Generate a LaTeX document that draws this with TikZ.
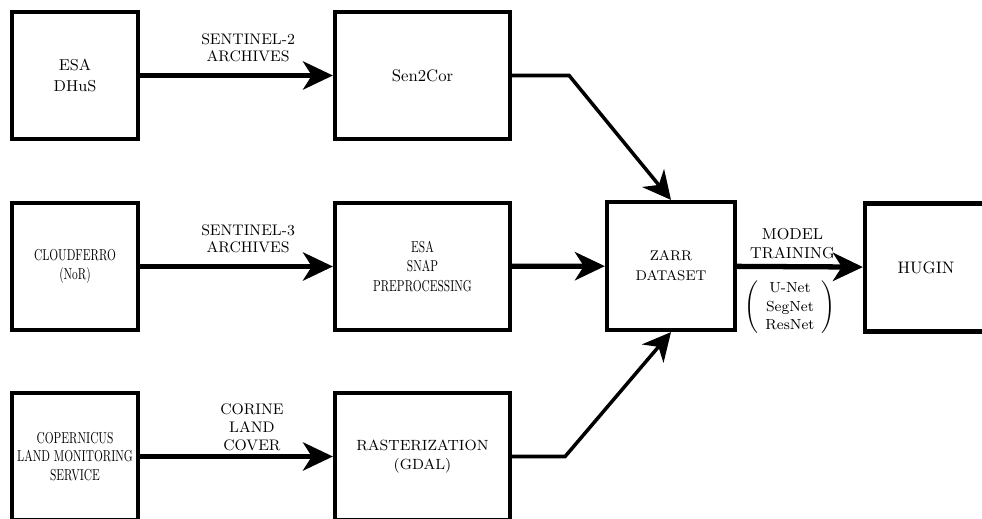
\documentclass[tikz,border=0pt]{standalone}
\usepackage{fontspec}
\newfontfamily\narrowrm[FakeStretch=0.72]{lmroman10-regular.otf}
\usetikzlibrary{arrows.meta}

\begin{document}
\begin{tikzpicture}[
    block/.style={draw=black, line width=2.4pt, minimum width=2.52cm, minimum height=2.54cm, inner sep=0pt, align=center, font=\fontsize{9}{12}\selectfont},
    wideblock/.style={block, minimum width=3.5cm},
    narrow/.style={font=\narrowrm\fontsize{9}{10.5}\selectfont},
    tag/.style={align=center, inner sep=1pt, font=\fontsize{8.7}{10}\selectfont},
    flow/.style={-{Stealth[length=17pt, width=16pt, inset=5pt]}, line width=3pt},
    feed/.style={-{Stealth[length=16pt, width=16pt, inset=5pt]}, line width=2pt}
]
    \clip (0,0) rectangle (19.64,10.36);
    \useasboundingbox (0,0) rectangle (19.64,10.36);

    % Sources
    \node[block] (dhus) at (1.5,8.85) {ESA\\DHuS};
    \node[block, narrow] (cloud) at (1.5,5.03) {CLOUDFERRO\\(NoR)};
    \node[block, narrow] (clms) at (1.5,1.23) {COPERNICUS\\LAND MONITORING\\SERVICE};

    % Processing
    \node[wideblock, font=\fontsize{9.5}{12}\selectfont] (sen) at (8.45,8.85) {Sen2Cor};
    \node[wideblock, narrow, font=\narrowrm\fontsize{9}{11}\selectfont] (snap) at (8.45,5.03) {ESA\\SNAP\\PREPROCESSING};
    \node[wideblock, font=\fontsize{8.4}{10.5}\selectfont] (ras) at (8.45,1.23) {RASTERIZATION\\(GDAL)};

    % Dataset and model
    \node[block, minimum width=2.56cm, minimum height=2.56cm, font=\fontsize{8}{11.3}\selectfont] (zarr) at (13.42,5.04) {ZARR\\DATASET};
    \node[block, minimum width=3.2cm, minimum height=2.56cm] (hugin) at (18.9,5.01) {};
    \node[font=\fontsize{9.5}{12}\selectfont] (hlabel) at (18.52,5.01) {HUGIN};

    % Bends
    \coordinate (k1) at ([xshift=1.14cm]sen.east);
    \coordinate (k2) at ([xshift=1.06cm]ras.east);

    % Connections
    \draw[flow] (dhus) -- node[tag, above=5pt, pos=0.56] {SENTINEL-2\\ARCHIVES} (sen);
    \draw[flow] (cloud) -- node[tag, above=5pt, pos=0.56] {SENTINEL-3\\ARCHIVES} (snap);
    \draw[flow] (clms) -- node[tag, above=1pt, pos=0.58] {CORINE\\LAND\\COVER} (ras);
    \draw[flow] (snap) -- (zarr);
    \draw[feed] (sen.east) -- (k1) -- (zarr.north);
    \draw[feed] (ras.east) -- (k2) -- (zarr.south);
    \draw[flow] (zarr) -- node[tag, above=2pt, pos=0.44, font=\fontsize{9}{10.5}\selectfont] {MODEL\\TRAINING}
        node[tag, below=5pt, pos=0.42, font=\fontsize{8.3}{10.5}\selectfont] {$\left(\begin{tabular}{@{\hspace{4pt}}c@{\hspace{4pt}}}U-Net\\SegNet\\ResNet\end{tabular}\right)$} (hugin);
\end{tikzpicture}
\end{document}
